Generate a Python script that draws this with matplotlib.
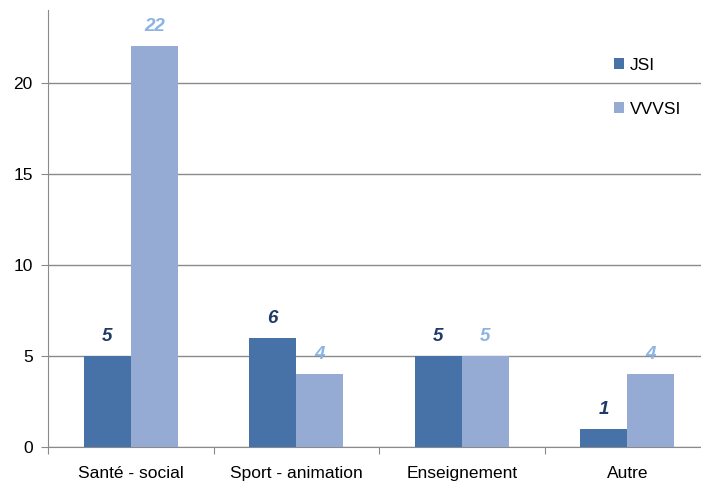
import numpy as np
import matplotlib.pyplot as plt

plt.rcParams['font.family'] = ['Liberation Sans', 'DejaVu Sans']

categories = ["Santé - social", "Sport - animation", "Enseignement", "Autre"]
jsi = [5, 6, 5, 1]
vvvsi = [22, 4, 5, 4]

col_jsi = "#4672A8"
col_vvvsi = "#95ABD3"
lab_jsi = "#1F3A66"
lab_vvvsi = "#8DB3E2"

fig = plt.figure(figsize=(7.01, 4.86), dpi=100)
ax = fig.add_axes([48 / 701, 39 / 486, 662 / 701, 437 / 486])

x = np.arange(len(categories))
w = 0.285
b1 = ax.bar(x - w / 2, jsi, w, color=col_jsi, label="JSI", zorder=3)
b2 = ax.bar(x + w / 2, vvvsi, w, color=col_vvvsi, label="VVVSI", zorder=3)

for rect, v in zip(b1, jsi):
    ax.text(rect.get_x() + rect.get_width() / 2, v + 0.6, str(v), ha="center", va="bottom",
            fontsize=13.5, fontweight="bold", fontstyle="italic", color=lab_jsi)
for rect, v in zip(b2, vvvsi):
    ax.text(rect.get_x() + rect.get_width() / 2, v + 0.6, str(v), ha="center", va="bottom",
            fontsize=13.5, fontweight="bold", fontstyle="italic", color=lab_vvvsi)

ax.set_xlim(-0.5, len(categories) - 0.5)
ax.set_ylim(0, 24)
ax.set_yticks([0, 5, 10, 15, 20])
ax.yaxis.grid(True, color="#8a8a8a", linewidth=1, zorder=0)
ax.set_axisbelow(True)

ax.set_xticks(np.arange(-0.5, len(categories), 1.0))
ax.set_xticklabels([])
ax.set_xticks(x, minor=True)
ax.set_xticklabels(categories, minor=True, fontsize=12.5)
ax.tick_params(axis="x", which="minor", length=0, pad=14)
ax.tick_params(axis="x", which="major", length=5, color="#8a8a8a")
ax.tick_params(axis="y", length=5, color="#8a8a8a", labelsize=12.5, pad=6)

for s in ["top", "right"]:
    ax.spines[s].set_visible(False)
for s in ["left", "bottom"]:
    ax.spines[s].set_color("#8a8a8a")

ax.legend(loc="upper left", bbox_to_anchor=(607 / 701, 1 - 51 / 486), bbox_transform=fig.transFigure,
          frameon=False, fontsize=12.5, handlelength=0.6, handleheight=0.6, handletextpad=0.3,
          labelspacing=1.65, borderaxespad=0)

fig.savefig("out.png", dpi=100)
